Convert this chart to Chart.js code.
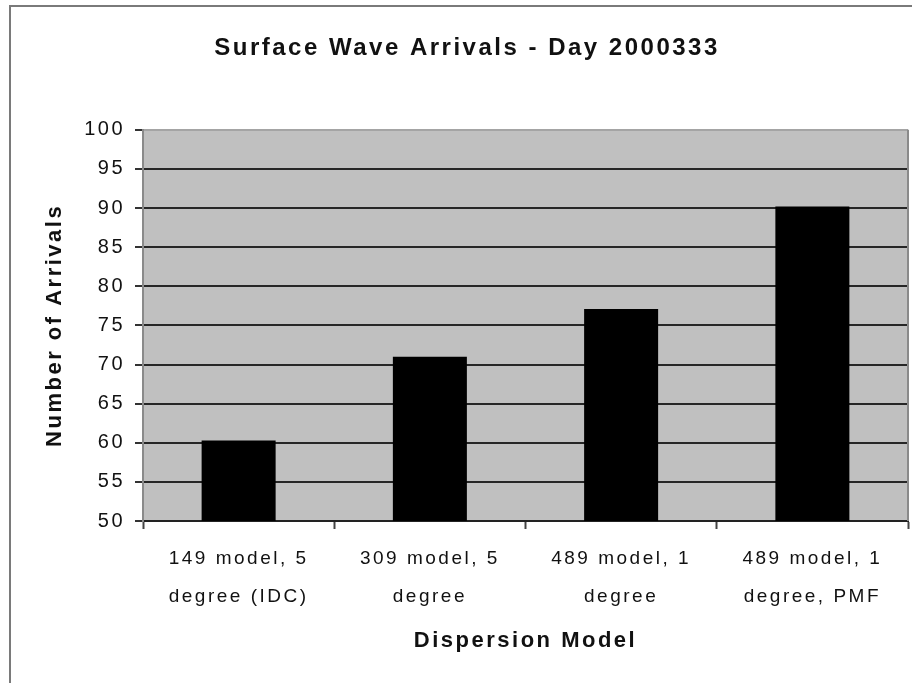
<!DOCTYPE html>
<html>
<head>
<meta charset="utf-8">
<script src="https://cdn.jsdelivr.net/npm/chart.js@4/dist/chart.umd.min.js"></script>
<style>
  html, body { margin: 0; padding: 0; background: #fff; }
  #wrap { width: 912px; height: 683px; }
</style>
</head>
<body>
<div id="wrap"><canvas id="barChart" width="912" height="683"></canvas></div>
<script>
const chartTitle = "Surface Wave Arrivals - Day 2000333";
const xTitle = "Dispersion Model";
const yTitle = "Number of Arrivals";
const categories = [
  ["149 model, 5", "degree (IDC)"],
  ["309 model, 5", "degree"],
  ["489 model, 1", "degree"],
  ["489 model, 1", "degree, PMF"]
];
const arrivals = [60.3, 71.0, 77.1, 90.2];
const yMin = 50, yMax = 100, yStep = 5;

const FONT = "'Liberation Sans', Arial, sans-serif";
const SPACING = "2.5px";

// old-style spaced-out lettering, set again whenever the canvas is reset
const spacingPlugin = {
  id: "spacing",
  beforeUpdate(chart) { chart.ctx.letterSpacing = SPACING; },
  beforeLayout(chart) { chart.ctx.letterSpacing = SPACING; },
  beforeDraw(chart) { chart.ctx.letterSpacing = SPACING; }
};

// gray plot area plus the frame round the whole picture
const backdropPlugin = {
  id: "backdrop",
  beforeDraw(chart) {
    const ctx = chart.ctx;
    const a = chart.chartArea;
    ctx.save();
    ctx.fillStyle = "#c0c0c0";
    ctx.fillRect(a.left, a.top, a.right - a.left, a.bottom - a.top);
    ctx.strokeStyle = "#7a7a7a";
    ctx.lineWidth = 2;
    ctx.beginPath();
    ctx.moveTo(10, chart.height);
    ctx.lineTo(10, 6);
    ctx.lineTo(chart.width, 6);
    ctx.stroke();
    ctx.restore();
  },
  afterDatasetsDraw(chart) {
    const ctx = chart.ctx;
    const a = chart.chartArea;
    ctx.save();
    ctx.strokeStyle = "#8a8a8a";
    ctx.lineWidth = 2;
    ctx.beginPath();
    ctx.moveTo(a.right, a.top);
    ctx.lineTo(a.right, a.bottom);
    ctx.stroke();
    ctx.restore();
  }
};

const ctx = document.getElementById("barChart").getContext("2d");
const myChart = new Chart(ctx, {
  type: "bar",
  data: {
    labels: categories,
    datasets: [{
      label: yTitle,
      data: arrivals,
      backgroundColor: "#000000",
      borderColor: "#000000",
      borderWidth: 0,
      categoryPercentage: 1.0,
      barPercentage: 0.387
    }]
  },
  options: {
    responsive: false,
    animation: false,
    devicePixelRatio: 1,
    layout: { padding: { left: 26, right: 4, top: 0, bottom: 0 } },
    plugins: {
      legend: { display: false },
      tooltip: { enabled: false },
      title: {
        display: true,
        text: chartTitle,
        color: "#111",
        font: { family: FONT, size: 24, weight: "bold", lineHeight: 1.2 },
        padding: { top: 34, bottom: 67 }
      }
    },
    scales: {
      x: {
        afterFit(scale) { scale.height = 162; },
        grid: {
          offset: true,
          drawOnChartArea: false,
          drawTicks: true,
          tickLength: 8,
          tickColor: "#444",
          tickWidth: 2
        },
        border: { color: "#222", width: 2 },
        ticks: {
          color: "#111",
          padding: 11,
          maxRotation: 0,
          autoSkip: false,
          font: { family: FONT, size: 19, lineHeight: 2.0 }
        },
        title: {
          display: true,
          text: xTitle,
          color: "#111",
          font: { family: FONT, size: 22, weight: "bold", lineHeight: 1.2 },
          padding: { top: 0, bottom: 29 }
        }
      },
      y: {
        min: yMin,
        max: yMax,
        afterFit(scale) { scale.width = 117; },
        grid: {
          color: (c) => (c.tick && c.tick.value === yMax ? "#a4a4a4" : "#262626"),
          lineWidth: 2,
          drawTicks: true,
          tickLength: 8,
          tickColor: "#333",
          tickWidth: 2
        },
        border: { color: "#8a8a8a", width: 2 },
        ticks: {
          stepSize: yStep,
          color: "#111",
          padding: 10,
          font: { family: FONT, size: 20 }
        },
        title: {
          display: true,
          text: yTitle,
          color: "#111",
          font: { family: FONT, size: 22, weight: "bold", lineHeight: 1.2 },
          padding: { top: 16, bottom: 0 }
        }
      }
    }
  },
  plugins: [spacingPlugin, backdropPlugin]
});
</script>
</body>
</html>
